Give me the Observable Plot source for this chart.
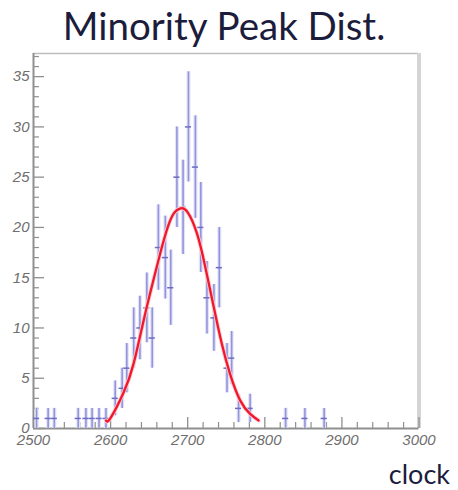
<!DOCTYPE html>
<html>
<head>
<meta charset="utf-8">
<script src="https://cdn.jsdelivr.net/npm/d3@7"></script>
<script src="https://cdn.jsdelivr.net/npm/@observablehq/plot@0.6"></script>
<style>
  html, body { margin: 0; padding: 0; background: #fff; }
  body { width: 458px; height: 490px; position: relative; overflow: hidden; }
  #title { height: 46px; position: relative; }
  #title span { position: absolute; left: 0; width: 448px; top: 6px; text-align: center;
    font-family: Lato, sans-serif; font-size: 38.5px; line-height: 38px; color: #1c1c3c; }
  #xlabel { position: absolute; right: 8px; top: 462px; font-family: Lato, sans-serif;
    font-size: 27px; line-height: 24px; color: #1c1c3c; }
</style>
</head>
<body>
<div id="title"><span>Minority Peak Dist.</span></div>
<div id="chart"></div>
<div id="xlabel">clock</div>
<script>
// ---- data ----
const xDomain = [2500, 3000];
const yDomain = [0, 37.3];
const xTickValues = [2500, 2600, 2700, 2800, 2900, 3000];
const yTickValues = [0, 5, 10, 15, 20, 25, 30, 35];

// histogram bin centers (clock) and entries
const clocks = [2504, 2519, 2527, 2558, 2568, 2576, 2585, 2594,
  2606, 2615, 2621, 2630, 2638, 2647, 2654, 2662, 2671, 2678, 2686, 2694,
  2701, 2710, 2717, 2725, 2734, 2741, 2751, 2757, 2766, 2781, 2827, 2852, 2877];
const counts = [1, 1, 1, 1, 1, 1, 1, 1,
  3, 4, 6, 9, 10, 12, 9, 18, 17, 14, 25, 22,
  30, 26, 20, 13, 11, 16, 6, 7, 2, 2, 1, 1, 1];
const binHalfWidth = 4;

// fitted gaussian curve
const fitClock = [2594, 2600, 2617, 2630, 2643, 2654, 2665, 2674, 2682, 2691,
  2700, 2712, 2723, 2734, 2744, 2755, 2768, 2781, 2792];
const fitValue = [0.8, 1.05, 3.6, 6.5, 10.8, 14.3, 17.6, 20.0, 21.4, 21.9,
  21.5, 19.4, 16.0, 12.0, 8.5, 5.4, 2.8, 1.45, 0.8];

const hist = clocks.map((c, i) => ({x: c, y: counts[i], e: Math.sqrt(counts[i])}));
const fit = fitClock.map((c, i) => ({x: c, y: fitValue[i]}));

const W = 458, H = 414, mT = 7, mB = 32, mL = 33, mR = 39.5;
const frameH = H - mT - mB, frameW = W - mL - mR;
const xMinor = d3.range(xDomain[0], xDomain[1] + 1, 20).filter(v => !xTickValues.includes(v));
const yMinor = d3.range(0, 38, 1).filter(v => !yTickValues.includes(v));

const axisColor = "#8f8f8f";
const chart = Plot.plot({
  width: W, height: H,
  marginTop: mT, marginBottom: mB, marginLeft: mL, marginRight: mR,
  style: {fontFamily: "Liberation Sans, sans-serif", fontSize: "15px", fontStyle: "italic", background: "#fff"},
  x: {domain: xDomain, label: null},
  y: {domain: yDomain, label: null},
  marks: [
    // frame
    Plot.ruleY([yDomain[1]], {stroke: "#bdbdbd", strokeWidth: 1.5}),
    Plot.ruleX([xDomain[1]], {stroke: "#d4d4d4", strokeWidth: 4}),
    // inward ticks
    Plot.ruleX(xTickValues, {stroke: axisColor, strokeWidth: 1.3, insetTop: frameH - 11}),
    Plot.ruleX(xMinor, {stroke: axisColor, strokeWidth: 1.2, insetTop: frameH - 6}),
    Plot.ruleY(yTickValues, {stroke: axisColor, strokeWidth: 1.3, insetRight: frameW - 11}),
    Plot.ruleY(yMinor, {stroke: axisColor, strokeWidth: 1.2, insetRight: frameW - 6}),
    Plot.ruleX([xDomain[0]], {stroke: axisColor, strokeWidth: 2}),
    Plot.ruleY([yDomain[0]], {stroke: axisColor, strokeWidth: 2}),
    // tick labels
    Plot.axisX({ticks: xTickValues, tickSize: 0, tickPadding: 6, color: "#6f6f6f", tickFormat: d => String(d)}),
    Plot.axisY({ticks: yTickValues, tickSize: 0, tickPadding: 4, color: "#6f6f6f"}),
    // error bars (halo + core)
    Plot.ruleX(hist, {x: "x", y1: d => d.y - d.e, y2: d => d.y + d.e, stroke: "#e2e2f7", strokeWidth: 4}),
    Plot.ruleX(hist, {x: "x", y1: d => d.y - d.e, y2: d => d.y + d.e, stroke: "#9494dc", strokeWidth: 1.6}),
    Plot.ruleY(hist, {y: "y", x1: d => d.x - binHalfWidth, x2: d => d.x + binHalfWidth, stroke: "#6c6cc4", strokeWidth: 1.5}),
    // fit
    Plot.line(fit, {x: "x", y: "y", curve: "natural", stroke: "#fcc", strokeWidth: 4}),
    Plot.line(fit, {x: "x", y: "y", curve: "natural", stroke: "#ee1830", strokeWidth: 2.3})
  ]
});
document.getElementById("chart").appendChild(chart);
</script>
</body>
</html>
